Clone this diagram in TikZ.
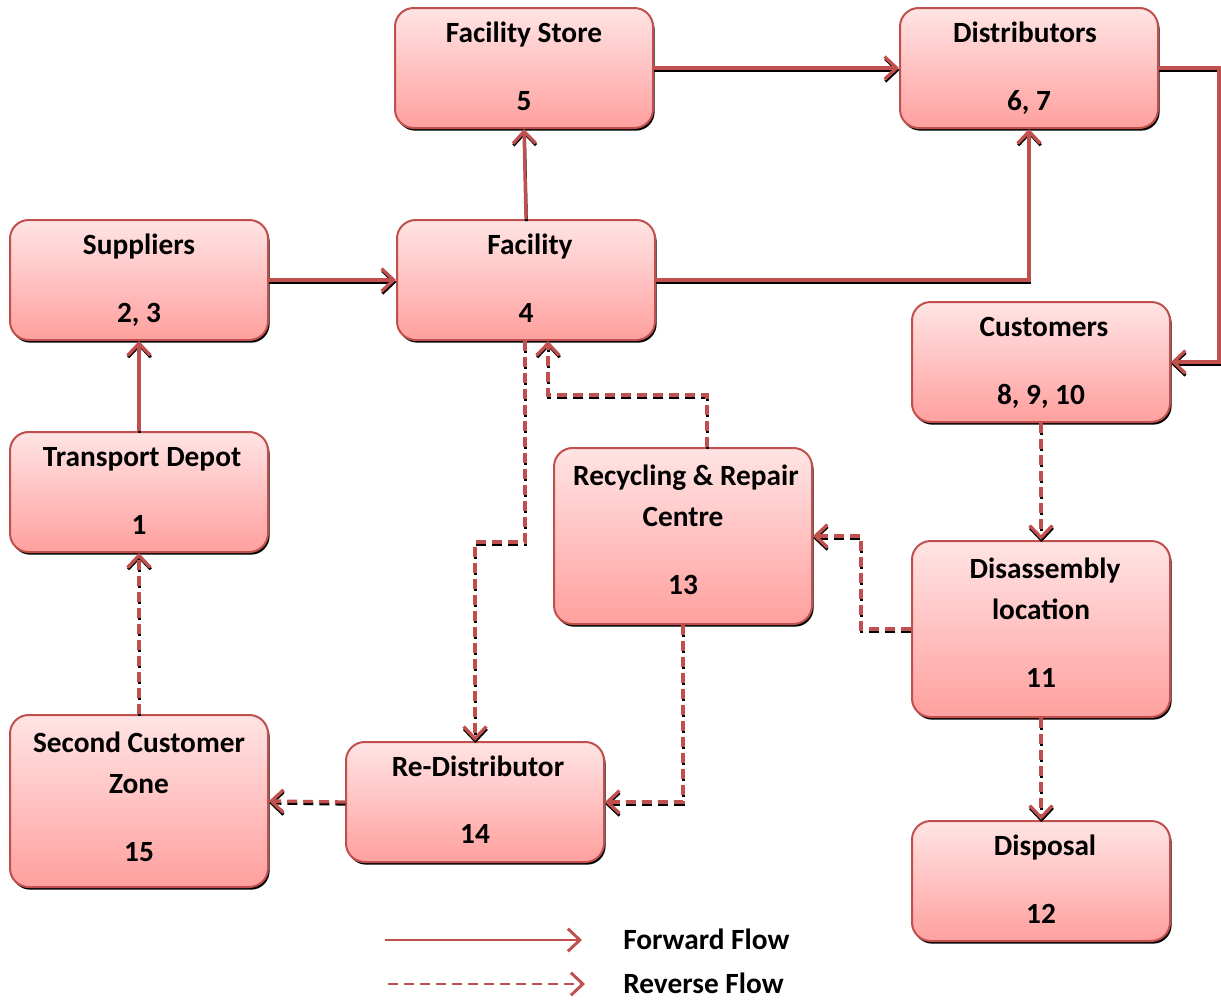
\documentclass[tikz,border=0pt]{standalone}
\usepackage{fontspec}
\setmainfont{Carlito}
\usetikzlibrary{arrows.meta,shadows,calc}
\definecolor{bordr}{RGB}{192,80,77}
\definecolor{topc}{RGB}{255,228,228}
\definecolor{botc}{RGB}{255,160,158}
\tikzset{
 box/.style={draw=bordr, line width=1.5pt, rounded corners=14pt, top color=topc, bottom color=botc,
   minimum width=193.5pt, minimum height=90pt, inner sep=0pt,
   drop shadow={shadow xshift=1.2pt, shadow yshift=-2pt, opacity=1, fill=black}},
 tall/.style={minimum height=132pt},
 txt/.style={font=\fontsize{22}{26}\selectfont\bfseries, inner sep=0pt, anchor=base},
 tipA/.style={-{Straight Barb[length=9pt,width=17pt]}},
 dpat/.style={dash pattern=on 7.5pt off 4.5pt},
 fwd/.style={draw=bordr, line width=2.5pt, tipA,
   preaction={draw=black, line width=2.2pt, transform canvas={xshift=0.3pt,yshift=-1.6pt}}},
 rev/.style={draw=bordr, line width=2.5pt, tipA, dpat,
   preaction={draw=black, line width=2.2pt, dpat, transform canvas={xshift=0.3pt,yshift=-1.6pt}}},
 legf/.style={draw=bordr, line width=2.2pt, tipA},
 legr/.style={legf, dpat},
}
\begin{document}
\begin{tikzpicture}[x=0.75pt,y=-0.75pt]
\useasboundingbox (0,0) rectangle (1221,1003);
% boxes
\node[box] (fs) at (524,68) {};
\node[box] (dist) at (1029,68) {};
\node[box] (sup) at (139,280) {};
\node[box] (fac) at (526,280) {};
\node[box] (cust) at (1041,362) {};
\node[box] (td) at (139,492) {};
\node[box,tall] (rec) at (683,536) {};
\node[box,tall] (dis) at (1041,629) {};
\node[box,minimum height=129pt] (scz) at (139,801) {};
\node[box] (red) at (475,802) {};
\node[box] (disp) at (1041,881) {};
% texts
\node[txt] (fsT) at ($(fs.north)+(0,35)$) {Facility Store};
\node[txt] (fsN) at ($(fs.north)+(0,103)$) {5};
\node[txt] (distT) at ($(dist.north)+(-4,35)$) {Distributors};
\node[txt] (distN) at ($(dist.north)+(0,103)$) {6, 7};
\node[txt] (supT) at ($(sup.north)+(0,35)$) {Suppliers};
\node[txt] (supN) at ($(sup.north)+(0,103)$) {2, 3};
\node[txt] (facT) at ($(fac.north)+(4,35)$) {Facility};
\node[txt] (facN) at ($(fac.north)+(0,103)$) {4};
\node[txt] (custT) at ($(cust.north)+(3,35)$) {Customers};
\node[txt] (custN) at ($(cust.north)+(0,103)$) {8, 9, 10};
\node[txt] (tdT) at ($(td.north)+(3,35)$) {Transport Depot};
\node[txt] (tdN) at ($(td.north)+(0,103)$) {1};
\node[txt] (recT) at ($(rec.north)+(3,38)$) {Recycling \& Repair};
\node[txt] (recT2) at ($(rec.north)+(0,79)$) {Centre};
\node[txt] (recN) at ($(rec.north)+(0,147)$) {13};
\node[txt] (disT) at ($(dis.north)+(4,38)$) {Disassembly};
\node[txt] (disT2) at ($(dis.north)+(0,79)$) {location};
\node[txt] (disN) at ($(dis.north)+(0,147)$) {11};
\node[txt] (sczT) at ($(scz.north)+(0,38)$) {Second Customer};
\node[txt] (sczT2) at ($(scz.north)+(0,79)$) {Zone};
\node[txt] (sczN) at ($(scz.north)+(0,147)$) {15};
\node[txt] (redT) at ($(red.north)+(3,35)$) {Re-Distributor};
\node[txt] (redN) at ($(red.north)+(0,102)$) {14};
\node[txt] (dispT) at ($(disp.north)+(4,35)$) {Disposal};
\node[txt] (dispN) at ($(disp.north)+(0,103)$) {12};
% forward flows
\draw[fwd] (fs.east) -- (dist.west);
\draw[fwd] (dist.east) -- ++(60,0) |- (cust.east);
\draw[fwd] (sup.east) -- (fac.west);
\draw[fwd] (fac.north) -- (fs.south);
\draw[fwd] (fac.east) -| (dist.south);
\draw[fwd] (td.north) -- (sup.south);
% reverse flows
\draw[rev] (scz.north) -- (td.south);
\draw[rev] (cust.south) -- (dis.north);
\draw[rev] (dis.west) -- ++(-50,0) |- (rec.east);
\draw[rev] ($(rec.north)+(24,0)$) -- ++(0,-52) -| ($(fac.south)+(22,0)$);
\draw[rev] ($(fac.south)+(-1,0)$) -- ++(0,201) -| (red.north);
\draw[rev] (rec.south) |- (red.east);
\draw[rev] (red.west) -- (scz.east);
\draw[rev] (dis.south) -- (disp.north);
% legend
\coordinate (lg1) at (385,940);
\coordinate (lg2) at (582,940);
\coordinate (lg3) at (388,984);
\coordinate (lg4) at (585,984);
\draw[legf] (lg1) -- (lg2);
\draw[legr] (lg3) -- (lg4);
\node[txt, anchor=base west] (lgT1) at (623,949) {Forward Flow};
\node[txt, anchor=base west] (lgT2) at (623,993) {Reverse Flow};
\end{tikzpicture}
\end{document}
